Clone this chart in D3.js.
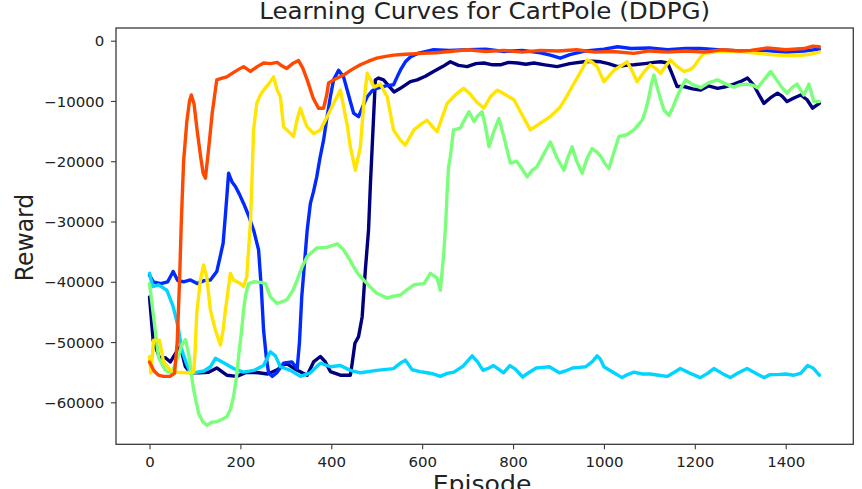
<!DOCTYPE html>
<html>
<head>
<meta charset="utf-8">
<script src="https://cdn.jsdelivr.net/npm/d3@7"></script>
<style>
  html, body { margin: 0; padding: 0; background: #fff; }
  svg { display: block; }
  text { font-family: "DejaVu Sans", sans-serif; fill: #222; }
</style>
</head>
<body>
<svg id="chart" width="862" height="489"></svg>
<script>
// ---------------- data ----------------
const title = "Learning Curves for CartPole (DDPG)";
const xLabel = "Episode";
const yLabel = "Reward";
const xTicks = [0, 200, 400, 600, 800, 1000, 1200, 1400];
const yTicks = [0, -10000, -20000, -30000, -40000, -50000, -60000];
const yTickLabels = ["0", "\u221210000", "\u221220000", "\u221230000", "\u221240000", "\u221250000", "\u221260000"];
const seriesNames = ["run1", "run2", "run3", "run4", "run5", "run6"];
const seriesColors = ["#00007f", "#002aff", "#00d4ff", "#7bff7b", "#ffe500", "#ff4800"];

const run1 = [[0,-42500],[8,-49700],[22,-52600],[35,-52600],[46,-53300],[57,-51900],[68,-50800],[79,-54100],[90,-55100],[110,-55100],[130,-55000],[148,-54300],[170,-55500],[192,-55700],[214,-55000],[240,-55100],[260,-55300],[281,-54600],[300,-53500],[323,-54600],[347,-55500],[361,-53300],[376,-52400],[387,-53300],[398,-54900],[420,-55500],[442,-55500],[446,-53500],[452,-50200],[460,-49100],[468,-45800],[475,-38000],[482,-31400],[486,-24000],[490,-17600],[497,-6500],[504,-6200],[515,-6500],[538,-8500],[552,-7900],[574,-6800],[589,-6500],[607,-5900],[625,-5100],[645,-4300],[662,-3500],[680,-4100],[699,-4300],[718,-3800],[736,-3700],[755,-4000],[772,-4000],[790,-3600],[810,-3700],[828,-3900],[846,-3700],[870,-4000],[897,-4300],[925,-3800],[956,-3500],[975,-3400],[993,-3500],[1010,-3800],[1030,-4300],[1048,-4100],[1066,-4000],[1090,-3800],[1110,-3600],[1125,-3500],[1140,-3700],[1150,-5500],[1161,-7600],[1176,-7600],[1195,-8000],[1213,-8200],[1230,-7500],[1250,-7900],[1270,-7600],[1286,-7200],[1300,-6800],[1316,-6200],[1330,-7400],[1340,-8800],[1352,-10400],[1366,-9500],[1382,-8700],[1392,-9200],[1403,-10100],[1418,-9500],[1433,-9000],[1447,-9800],[1459,-11200],[1474,-10400]];

const run2 = [[0,-38900],[8,-40000],[25,-40300],[40,-40000],[52,-38300],[62,-39800],[75,-40000],[90,-39700],[105,-40300],[120,-39800],[134,-39700],[148,-38300],[155,-36000],[162,-33600],[168,-28000],[174,-22000],[182,-23500],[189,-24200],[198,-25500],[207,-27000],[218,-29000],[229,-31400],[240,-34700],[246,-41000],[251,-48000],[257,-52500],[262,-55100],[270,-55700],[280,-55100],[295,-53500],[313,-53300],[325,-54400],[330,-50000],[335,-42500],[341,-37000],[347,-31400],[354,-27000],[361,-25000],[368,-22600],[375,-19500],[383,-16500],[390,-13000],[398,-9300],[405,-6500],[416,-4900],[427,-6000],[438,-9000],[449,-12000],[460,-12600],[470,-10800],[479,-9300],[490,-8300],[500,-7900],[520,-7500],[537,-7300],[545,-6000],[552,-4900],[563,-3500],[574,-2700],[590,-2100],[607,-1800],[625,-1500],[660,-1600],[700,-1500],[740,-1400],[780,-1800],[820,-1600],[860,-2000],[882,-2400],[904,-2900],[925,-2300],[960,-1700],[1000,-1400],[1030,-1000],[1060,-1300],[1100,-1200],[1140,-1500],[1180,-1300],[1212,-1300],[1250,-1500],[1300,-1700],[1350,-1600],[1400,-1900],[1440,-1700],[1474,-1400]];

const run3 = [[0,-38600],[7,-40800],[20,-40500],[38,-41400],[52,-44100],[63,-47500],[71,-51300],[81,-53500],[90,-55100],[105,-55000],[120,-54800],[134,-54100],[145,-52700],[160,-53300],[185,-54400],[207,-55000],[230,-54700],[251,-53900],[266,-51600],[277,-52300],[288,-54100],[310,-54700],[332,-55700],[354,-55100],[376,-53500],[398,-54100],[420,-53900],[442,-54700],[464,-55100],[500,-54700],[537,-54400],[552,-53500],[563,-53000],[578,-54600],[595,-54900],[611,-55100],[625,-55300],[640,-55700],[655,-55200],[670,-55000],[690,-54000],[710,-52300],[722,-53300],[734,-54700],[747,-54300],[757,-53900],[768,-54500],[779,-55100],[793,-53900],[805,-54500],[821,-55800],[836,-55000],[851,-54300],[866,-54200],[880,-54100],[902,-55100],[915,-54800],[931,-54300],[946,-54200],[960,-54100],[975,-53200],[985,-52300],[992,-52800],[1000,-54100],[1020,-55000],[1040,-55900],[1052,-55400],[1066,-55000],[1085,-55300],[1102,-55300],[1120,-55500],[1139,-55700],[1155,-55000],[1168,-54400],[1190,-55200],[1212,-55900],[1228,-55200],[1242,-54400],[1260,-55200],[1278,-55900],[1296,-55100],[1315,-54400],[1335,-55200],[1352,-55900],[1366,-55400],[1381,-55400],[1400,-55300],[1418,-55500],[1433,-55200],[1448,-53900],[1460,-54300],[1474,-55500]];

const run4 = [[0,-40300],[8,-45200],[20,-52600],[35,-54700],[49,-55100],[60,-53000],[71,-50500],[79,-49600],[86,-51900],[97,-57900],[108,-61800],[117,-63200],[126,-63800],[137,-63300],[148,-63200],[160,-62800],[170,-62400],[178,-61200],[185,-59000],[191,-56000],[196,-52400],[202,-48500],[207,-44700],[212,-42000],[218,-40300],[229,-40000],[245,-40100],[255,-40300],[266,-42500],[281,-43600],[302,-43000],[315,-41500],[325,-39700],[336,-37500],[347,-35800],[368,-34400],[390,-34300],[413,-33700],[427,-34700],[438,-36000],[449,-37500],[460,-38800],[471,-39700],[485,-40800],[500,-41900],[523,-42700],[537,-42400],[552,-42200],[567,-41300],[582,-40500],[604,-40300],[618,-38600],[633,-39400],[640,-41400],[647,-35800],[652,-30000],[655,-25000],[658,-21000],[662,-19200],[669,-14800],[684,-14500],[694,-13000],[703,-11800],[714,-13400],[722,-12500],[732,-11800],[740,-14500],[747,-17600],[758,-15000],[769,-12900],[780,-16000],[794,-20300],[808,-20000],[820,-21300],[831,-22600],[842,-21500],[852,-21000],[866,-19000],[882,-16800],[897,-19500],[912,-21500],[920,-19500],[930,-17600],[940,-20000],[952,-22000],[963,-19500],[974,-17900],[985,-18500],[993,-19200],[1003,-20500],[1011,-21200],[1022,-18500],[1033,-15900],[1050,-15600],[1066,-14800],[1075,-14000],[1084,-13200],[1092,-11500],[1099,-9300],[1105,-7000],[1110,-5700],[1120,-8500],[1132,-11500],[1143,-12400],[1152,-11000],[1161,-9300],[1170,-7800],[1180,-6500],[1195,-7300],[1213,-7800],[1230,-7000],[1250,-6500],[1268,-7200],[1286,-7700],[1300,-7300],[1316,-7200],[1328,-7400],[1338,-7800],[1352,-6500],[1367,-5100],[1380,-6500],[1392,-7800],[1403,-8700],[1414,-7800],[1425,-7200],[1433,-8200],[1440,-9000],[1451,-7200],[1456,-8500],[1462,-10100],[1474,-10100]];

const run5 = [[0,-52400],[3,-55100],[9,-49700],[22,-49700],[31,-53300],[46,-54700],[60,-55000],[81,-55100],[97,-55000],[100,-52000],[104,-45200],[112,-39700],[119,-37200],[126,-39200],[134,-44700],[145,-48000],[156,-50500],[162,-48000],[167,-44700],[178,-38600],[185,-39700],[200,-40300],[207,-40800],[214,-39200],[218,-34700],[222,-30300],[226,-22000],[229,-14800],[236,-10400],[244,-9000],[251,-8200],[262,-7200],[273,-6000],[281,-8200],[288,-9300],[295,-14300],[305,-15000],[317,-15900],[325,-13000],[332,-11200],[340,-13000],[347,-14300],[361,-15400],[376,-14800],[391,-12600],[405,-10400],[420,-8200],[427,-10900],[435,-14000],[442,-17600],[453,-21500],[464,-17600],[472,-10000],[479,-5400],[494,-7700],[508,-7200],[523,-9300],[537,-14800],[552,-16500],[563,-17300],[582,-14800],[598,-13800],[611,-13200],[622,-14200],[633,-15100],[645,-12500],[655,-10400],[673,-9000],[691,-7900],[705,-8800],[720,-10200],[736,-11200],[750,-9300],[765,-8200],[780,-8800],[802,-9800],[820,-12300],[838,-14800],[860,-13700],[882,-12600],[904,-11000],[920,-9000],[934,-7100],[950,-5000],[963,-3200],[975,-3600],[985,-4300],[1000,-6800],[1012,-5800],[1022,-4900],[1037,-4200],[1051,-3500],[1062,-5000],[1073,-6800],[1088,-5200],[1102,-4000],[1114,-4600],[1125,-5400],[1136,-4200],[1146,-3200],[1160,-4200],[1176,-5100],[1190,-4800],[1198,-4300],[1210,-3000],[1220,-2100],[1250,-1800],[1300,-1800],[1340,-2100],[1380,-2400],[1420,-2500],[1450,-2300],[1474,-1900]];

const run6 = [[0,-53300],[10,-54800],[20,-55500],[30,-55700],[45,-55700],[55,-55200],[61,-50000],[66,-40000],[70,-30000],[75,-20000],[82,-13500],[88,-10000],[92,-9000],[98,-10500],[105,-15000],[113,-19500],[118,-22000],[123,-22800],[130,-18000],[138,-12000],[148,-6500],[160,-6200],[170,-6000],[180,-5500],[195,-4800],[207,-4300],[222,-5100],[237,-4300],[251,-3700],[266,-3800],[281,-3600],[292,-4200],[302,-4600],[315,-3800],[328,-3300],[337,-4500],[347,-6500],[360,-9500],[372,-11200],[383,-11200],[390,-9000],[394,-7000],[410,-6300],[427,-5700],[445,-4800],[464,-4000],[482,-3400],[500,-2900],[520,-2600],[537,-2400],[555,-2300],[574,-2200],[600,-2100],[630,-2000],[660,-1800],[700,-1500],[740,-1800],[780,-1600],[820,-1900],[860,-1600],[900,-1700],[940,-1500],[980,-1900],[1020,-1800],[1066,-2100],[1100,-1700],[1140,-1900],[1180,-1700],[1220,-1900],[1260,-1500],[1300,-1700],[1323,-1600],[1360,-1200],[1400,-1500],[1440,-1300],[1460,-900],[1474,-1000]];

const allSeries = [run1, run2, run3, run4, run5, run6];

// ---------------- layout ----------------
const plot = { left: 116, right: 853.3, top: 28, bottom: 444.3 };
const SX = 1.07; // horizontal stretch of the reference's text

const svg = d3.select("#chart");

const x = d3.scaleLinear().domain([-73.75, 1548.75]).range([plot.left, plot.right]);
const y = d3.scaleLinear().domain([-66965, 2107]).range([plot.bottom, plot.top]);

svg.append("clipPath").attr("id", "clip")
  .append("rect").attr("x", plot.left).attr("y", plot.top)
  .attr("width", plot.right - plot.left).attr("height", plot.bottom - plot.top);

const line = d3.line().x(d => x(d[0])).y(d => y(d[1]));

const g = svg.append("g").attr("clip-path", "url(#clip)");
allSeries.forEach((s, i) => {
  g.append("path")
    .datum(s)
    .attr("fill", "none")
    .attr("stroke", seriesColors[i])
    .attr("stroke-width", 3.4)
    .attr("stroke-linejoin", "round")
    .attr("stroke-linecap", "round")
    .attr("d", line);
});

// frame
svg.append("rect")
  .attr("x", plot.left).attr("y", plot.top)
  .attr("width", plot.right - plot.left).attr("height", plot.bottom - plot.top)
  .attr("fill", "none").attr("stroke", "#3a3a3a").attr("stroke-width", 1.3);

// x axis
const xAxis = svg.append("g")
  .attr("transform", `translate(0,${plot.bottom})`)
  .call(d3.axisBottom(x).tickValues(xTicks).tickSize(5).tickPadding(0).tickFormat(d3.format("d")));
xAxis.select(".domain").remove();
xAxis.selectAll("line").attr("stroke", "#3a3a3a").attr("stroke-width", 1.1);
xAxis.selectAll("text")
  .attr("y", 23.2).attr("dy", null)
  .attr("transform", `scale(${SX},1)`)
  .attr("x", 0)
  .style("font-size", "14px").attr("fill", "#222");

// y axis
const yAxis = svg.append("g")
  .attr("transform", `translate(${plot.left},0)`)
  .call(d3.axisLeft(y).tickValues(yTicks).tickSize(5).tickPadding(0)
    .tickFormat((d, i) => yTickLabels[i]));
yAxis.select(".domain").remove();
yAxis.selectAll("line").attr("stroke", "#3a3a3a").attr("stroke-width", 1.1);
yAxis.selectAll("text")
  .attr("x", -11.7 / SX).attr("dy", "0.36em")
  .attr("transform", `scale(${SX},1)`)
  .style("font-size", "14px").attr("fill", "#222");

// title
svg.append("text")
  .attr("transform", `translate(${(plot.left + plot.right) / 2},19) scale(${SX},1)`)
  .attr("text-anchor", "middle")
  .style("font-size", "23px")
  .text(title);

// x label (cut by the bottom edge, as in the reference)
svg.append("text")
  .attr("transform", `translate(482,492) scale(${SX},1)`)
  .attr("text-anchor", "middle")
  .style("font-size", "23.5px")
  .text(xLabel);

// y label
svg.append("text")
  .attr("transform", `translate(32.5,237.5) rotate(-90) scale(1,${SX})`)
  .attr("text-anchor", "middle")
  .style("font-size", "23.5px")
  .text(yLabel);
</script>
</body>
</html>
